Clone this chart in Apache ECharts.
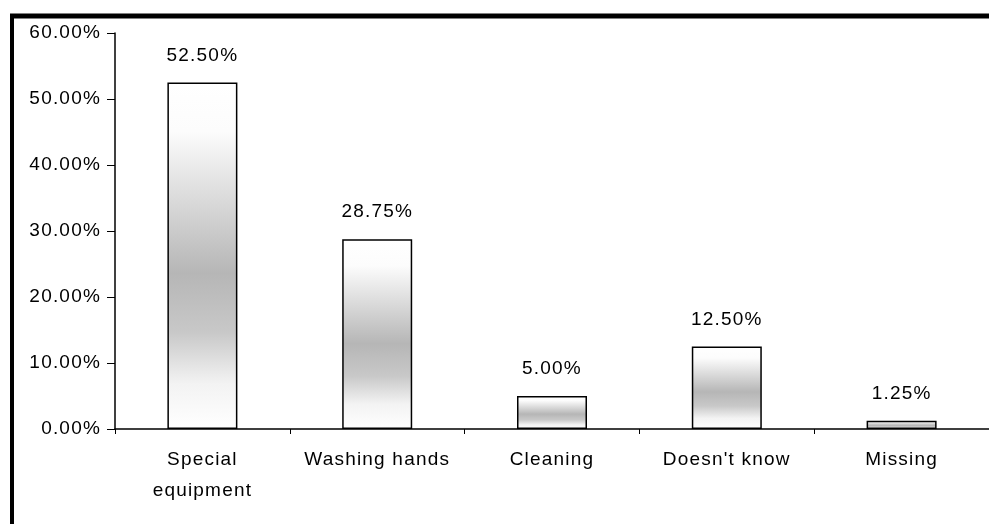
<!DOCTYPE html>
<html>
<head>
<meta charset="utf-8">
<style>
  html, body { margin: 0; padding: 0; background: #ffffff; }
  #chart { width: 989px; height: 524px; }
</style>
<script src="https://cdn.jsdelivr.net/npm/echarts@6/dist/echarts.min.js"></script>
</head>
<body>
<div id="chart"></div>
<script>
// Survey answers and their shares (percent)
const categories = ['Special\nequipment', 'Washing hands', 'Cleaning', "Doesn't know", 'Missing'];
const shares = [52.50, 28.75, 5.00, 12.50, 1.25];
const yTicks = { min: 0, max: 60, step: 10 };

// Slightly looser glyph spacing for all canvas text
const origGetContext = HTMLCanvasElement.prototype.getContext;
HTMLCanvasElement.prototype.getContext = function (type, opts) {
  const ctx = origGetContext.call(this, type, opts);
  if (ctx && type === '2d' && 'letterSpacing' in ctx) {
    try { ctx.letterSpacing = '1.2px'; } catch (e) {}
  }
  return ctx;
};

const FONT = '"Liberation Sans", Arial, sans-serif';
const chart = echarts.init(document.getElementById('chart'), null, { renderer: 'canvas' });

// Stippled grey shading that fades toward the top and bottom of each bar
const barFill = new echarts.graphic.LinearGradient(0, 0, 0, 1, [
  { offset: 0.0, color: '#ffffff' },
  { offset: 0.14, color: '#fcfcfc' },
  { offset: 0.34, color: '#dadada' },
  { offset: 0.55, color: '#b6b6b6' },
  { offset: 0.72, color: '#c8c8c8' },
  { offset: 0.87, color: '#f3f3f3' },
  { offset: 1.0, color: '#ffffff' }
]);

chart.setOption({
  backgroundColor: '#ffffff',
  animation: false,
  grid: { left: 115, top: 33, width: 880, height: 396, containLabel: false },
  graphic: [
    { type: 'line', shape: { x1: 10, y1: 16, x2: 989, y2: 16 }, style: { stroke: '#000', lineWidth: 5 }, z: 10 },
    { type: 'line', shape: { x1: 12, y1: 14, x2: 12, y2: 524 }, style: { stroke: '#000', lineWidth: 4 }, z: 10 }
  ],
  xAxis: {
    type: 'category',
    data: categories,
    axisLine: { lineStyle: { color: '#000', width: 1.5 } },
    axisTick: { show: true, length: 5, lineStyle: { color: '#000' } },
    axisLabel: { color: '#000', fontFamily: FONT, fontSize: 19, lineHeight: 31, margin: 15, interval: 0 }
  },
  yAxis: {
    type: 'value',
    min: yTicks.min,
    max: yTicks.max,
    interval: yTicks.step,
    axisLine: { show: true, lineStyle: { color: '#000', width: 1.5 } },
    axisTick: { show: true, length: 8, lineStyle: { color: '#000' } },
    splitLine: { show: false },
    axisLabel: {
      color: '#000', fontFamily: FONT, fontSize: 19, margin: 14,
      formatter: v => v.toFixed(2) + '%'
    }
  },
  series: [{
    type: 'bar',
    data: shares,
    barWidth: 70,
    itemStyle: { color: barFill, borderColor: '#000', borderWidth: 1.5 },
    label: {
      show: true, position: 'top', distance: 17,
      color: '#000', fontFamily: FONT, fontSize: 19,
      formatter: p => p.value.toFixed(2) + '%'
    }
  }]
});
</script>
</body>
</html>
